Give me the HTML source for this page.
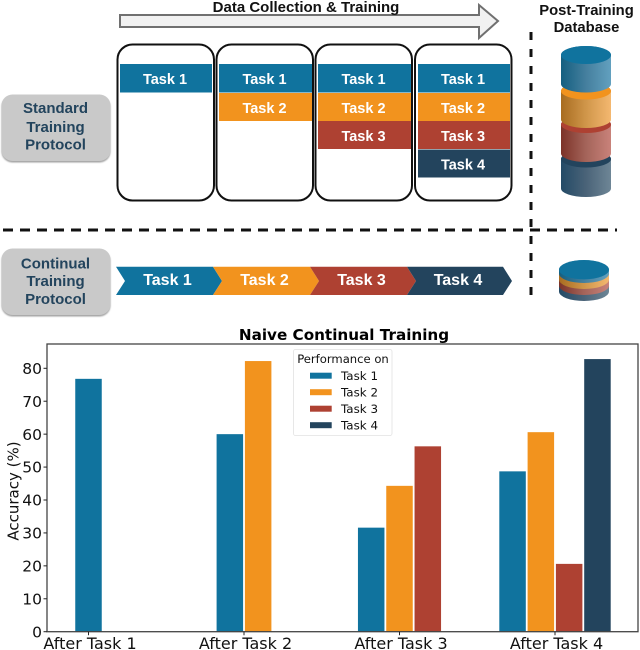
<!DOCTYPE html>
<html>
<head>
<meta charset="utf-8">
<style>
html,body{margin:0;padding:0;background:#fff;}
svg{display:block;}
.lib{font-family:"Liberation Sans",sans-serif;}
.dv{font-family:"DejaVu Sans",sans-serif;}
</style>
</head>
<body>
<svg id="fig" width="640" height="650" viewBox="0 0 640 650" xmlns="http://www.w3.org/2000/svg">
<defs>
<linearGradient id="gBlue" x1="0" x2="1" y1="0" y2="0"><stop offset="0" stop-color="#145f80"/><stop offset="0.5" stop-color="#457f9e"/><stop offset="1" stop-color="#62a0bf"/></linearGradient>
<linearGradient id="gOrange" x1="0" x2="1" y1="0" y2="0"><stop offset="0" stop-color="#a86c20"/><stop offset="0.5" stop-color="#d0964a"/><stop offset="1" stop-color="#f4b870"/></linearGradient>
<linearGradient id="gRed" x1="0" x2="1" y1="0" y2="0"><stop offset="0" stop-color="#7c3228"/><stop offset="0.5" stop-color="#a4645a"/><stop offset="1" stop-color="#c9827a"/></linearGradient>
<linearGradient id="gNavy" x1="0" x2="1" y1="0" y2="0"><stop offset="0" stop-color="#234a66"/><stop offset="0.5" stop-color="#4a6378"/><stop offset="1" stop-color="#6e8696"/></linearGradient>
<filter id="boxShadow" x="-5%" y="-5%" width="110%" height="115%"><feDropShadow dx="0" dy="1.5" stdDeviation="0.8" flood-color="#999" flood-opacity="0.9"/></filter>
</defs>

<g>
<polygon points="120,15 479,15 479,5 498,21 479,38 479,27 120,27" fill="#f1f1f1" stroke="#707070" stroke-width="2"/>
</g>
<text class="lib" x="306" y="12" text-anchor="middle" font-size="15" font-weight="700" fill="#111">Data Collection &amp; Training</text>
<text class="lib" x="586.5" y="15" text-anchor="middle" font-size="14.8" font-weight="700" fill="#111">Post-Training</text>
<text class="lib" x="586.5" y="32" text-anchor="middle" font-size="14.8" font-weight="700" fill="#111">Database</text>

<g>
<rect x="1.5" y="94.5" width="109" height="66.5" rx="11" fill="#c9c9c9" filter="url(#boxShadow)"/>
<text class="lib" x="55.5" y="113" text-anchor="middle" font-size="15" font-weight="700" fill="#23445d">Standard</text>
<text class="lib" x="55.5" y="132" text-anchor="middle" font-size="15" font-weight="700" fill="#23445d">Training</text>
<text class="lib" x="55.5" y="149.5" text-anchor="middle" font-size="15" font-weight="700" fill="#23445d">Protocol</text>
</g>
<g>
<rect x="1.5" y="248.5" width="109" height="66.5" rx="11" fill="#c9c9c9" filter="url(#boxShadow)"/>
<text class="lib" x="55.5" y="268.5" text-anchor="middle" font-size="15" font-weight="700" fill="#23445d">Continual</text>
<text class="lib" x="55.5" y="286" text-anchor="middle" font-size="15" font-weight="700" fill="#23445d">Training</text>
<text class="lib" x="55.5" y="304" text-anchor="middle" font-size="15" font-weight="700" fill="#23445d">Protocol</text>
</g>

<g id="panels"></g>
<g id="chevrons"></g>

<line x1="3" y1="230" x2="617" y2="230" stroke="#111" stroke-width="3" stroke-dasharray="10 7"/>
<line x1="531" y1="32" x2="531" y2="296" stroke="#111" stroke-width="3" stroke-dasharray="8 9"/>

<g>
<path d="M561,159 A25,8.5 0 0 1 611,159 V188.5 A25,8.5 0 0 1 561,188.5 Z" fill="url(#gNavy)"/>
<ellipse cx="586" cy="159" rx="25" ry="8.5" fill="#23445d"/>
<path d="M561,124.5 A25,8.5 0 0 1 611,124.5 V153.5 A25,8.5 0 0 1 561,153.5 Z" fill="url(#gRed)"/>
<ellipse cx="586" cy="124.5" rx="25" ry="8.5" fill="#ae4132"/>
<path d="M561,91 A25,8.5 0 0 1 611,91 V119.5 A25,8.5 0 0 1 561,119.5 Z" fill="url(#gOrange)"/>
<ellipse cx="586" cy="91" rx="25" ry="8.5" fill="#f2931e"/>
<path d="M561,55 A25,9 0 0 1 611,55 V84 A25,8.5 0 0 1 561,84 Z" fill="url(#gBlue)"/>
<ellipse cx="586" cy="55" rx="25" ry="9" fill="#10739e"/>
</g>
<g>
<path d="M559,285 A25,9.5 0 0 1 609,285 V291.5 A25,9.5 0 0 1 559,291.5 Z" fill="url(#gNavy)"/>
<path d="M559,279 A25,9.5 0 0 1 609,279 V285.5 A25,9.5 0 0 1 559,285.5 Z" fill="url(#gRed)"/>
<path d="M559,273 A25,9.5 0 0 1 609,273 V279.5 A25,9.5 0 0 1 559,279.5 Z" fill="url(#gOrange)"/>
<path d="M559,269.7 A25,9.5 0 0 1 609,269.7 V273.5 A25,9.5 0 0 1 559,273.5 Z" fill="url(#gBlue)"/>
<ellipse cx="584" cy="269.7" rx="25" ry="9.7" fill="#10739e"/>
</g>

<text class="dv" x="344" y="340" text-anchor="middle" font-size="15.2" font-weight="700" fill="#000">Naive Continual Training</text>
<g id="chart"></g>
</svg>

<script>
// Chart data
const categories = ["After Task 1", "After Task 2", "After Task 3", "After Task 4"];
const seriesNames = ["Task 1", "Task 2", "Task 3", "Task 4"];
const task1Values = [76.8, 60.0, 31.6, 48.7];
const task2Values = [null, 82.2, 44.3, 60.6];
const task3Values = [null, null, 56.3, 20.6];
const task4Values = [null, null, null, 82.8];
const yTicks = [0, 10, 20, 30, 40, 50, 60, 70, 80];
const legendTitle = "Performance on";
const yAxisTitle = "Accuracy (%)";

const NS = "http://www.w3.org/2000/svg";
const allSeries = [task1Values, task2Values, task3Values, task4Values];
const colors = ["#10739e", "#f2931e", "#ae4132", "#23445d"];
const chart = document.getElementById("chart");
const plot = {left: 47, right: 638, top: 344, bottom: 631.7};
function yScale(v) { return plot.bottom - v * 3.2925; }
function xScale(i) { return 88.5 + i * 155.5; }
const barStep = 28.3;
const barWidth = 26.5;

function make(tag, attrs, parent) {
  const el = document.createElementNS(NS, tag);
  for (const k in attrs) el.setAttribute(k, attrs[k]);
  parent.appendChild(el);
  return el;
}

// Bars
categories.forEach(function (cat, i) {
  const present = allSeries.map(function (s, j) { return s[i] === null ? -1 : j; }).filter(function (j) { return j >= 0; });
  present.forEach(function (j, k) {
    const v = allSeries[j][i];
    const cx = xScale(i) + (k - (present.length - 1) / 2) * barStep;
    const bar = make("rect", {x: cx - barWidth / 2, y: yScale(v), width: barWidth, height: plot.bottom - yScale(v), fill: colors[j]}, chart);
    
    
  });
});

// Axes frame
const frame = make("rect", {x: plot.left, y: plot.top, width: plot.right - plot.left, height: plot.bottom - plot.top, fill: "none", stroke: "#444", "stroke-width": 1.3}, chart);



// Y ticks
yTicks.forEach(function (t) {
  const y = yScale(t);
  const tick = make("line", {x1: plot.left - 3.5, x2: plot.left, y1: y, y2: y, stroke: "#222", "stroke-width": 1}, chart);
  
  
  const label = make("text", {x: 42, y: y + 5.6, "text-anchor": "end", "font-size": 15.5, fill: "#111", "font-family": "'DejaVu Sans',sans-serif"}, chart);
  
  
  label.textContent = t;
});

// X ticks
categories.forEach(function (cat, i) {
  const x = xScale(i);
  const tick = make("line", {x1: x, x2: x, y1: plot.bottom, y2: plot.bottom + 3.5, stroke: "#222", "stroke-width": 1}, chart);
  
  
  const label = make("text", {x: x + 1.5, y: 649, "text-anchor": "middle", "font-size": 16, fill: "#111", "font-family": "'DejaVu Sans',sans-serif"}, chart);
  
  
  label.textContent = cat;
});

// Y axis title
const yTitle = make("text", {x: 0, y: 0, transform: "translate(18.5,491) rotate(-90)", "text-anchor": "middle", "font-size": 15, fill: "#111", "font-family": "'DejaVu Sans',sans-serif"}, chart);


yTitle.textContent = yAxisTitle;

// Legend
const legend = make("g", {}, chart);


make("rect", {x: 293.5, y: 349.5, width: 98.5, height: 86, rx: 2, fill: "#fff", "fill-opacity": 0.85, stroke: "#e2e2e2", "stroke-width": 0.8}, legend);
const legTitle = make("text", {x: 343, y: 363, "text-anchor": "middle", "font-size": 11.6, fill: "#111", "font-family": "'DejaVu Sans',sans-serif"}, legend);


legTitle.textContent = legendTitle;
seriesNames.forEach(function (name, j) {
  const y = 375.7 + j * 16.5;
  const sw = make("rect", {x: 310, y: y - 3, width: 21.7, height: 6, fill: colors[j]}, legend);
  
  
  const lab = make("text", {x: 341, y: y + 4.2, "font-size": 11.9, fill: "#111", "font-family": "'DejaVu Sans',sans-serif"}, legend);
  
  
  lab.textContent = name;
});

// Standard training panels
const panels = document.getElementById("panels");
const panelX = [117.5, 216.5, 315.5, 415];
const bandX = [120, 219, 318, 418];
const bandW = [92, 93, 93, 92];
const bandY = [64, 93, 121, 149.5];
const bandH = [28.5, 28, 28, 28];
panelX.forEach(function (px, p) {
  const r = make("rect", {x: px, y: 44.5, width: 96.5, height: 156, rx: 15, fill: "#fff", stroke: "#111", "stroke-width": 2}, panels);
  
  
  for (let b = 0; b <= p; b++) {
    const band = make("rect", {x: bandX[p], y: bandY[b], width: bandW[p], height: bandH[b], fill: colors[b]}, panels);
    
    
    const t = make("text", {x: bandX[p] + bandW[p] / 2 - 1, y: bandY[b] + 20, "text-anchor": "middle", "font-size": 14.5, "font-weight": 700, fill: "#fff", "font-family": "'Liberation Sans',sans-serif"}, panels);
    
    
    t.textContent = seriesNames[b];
  }
});

// Continual chevrons
const chevrons = document.getElementById("chevrons");
const chevStart = [116, 213, 310, 407];
const chevEnd = [213, 310, 407, 503];
chevStart.forEach(function (s, i) {
  const e = chevEnd[i];
  const pts = [[s, 266.7], [e, 266.7], [e + 9, 281], [e, 295], [s, 295], [s + 9, 281]].map(function (p) { return p.join(","); }).join(" ");
  const c = make("polygon", {points: pts, fill: colors[i]}, chevrons);
  
  
  const t = make("text", {x: (s + e) / 2 + 3, y: 285, "text-anchor": "middle", "font-size": 16, "font-weight": 700, fill: "#fff", "font-family": "'Liberation Sans',sans-serif"}, chevrons);
  
  
  t.textContent = seriesNames[i];
});
</script>
</body>
</html>
